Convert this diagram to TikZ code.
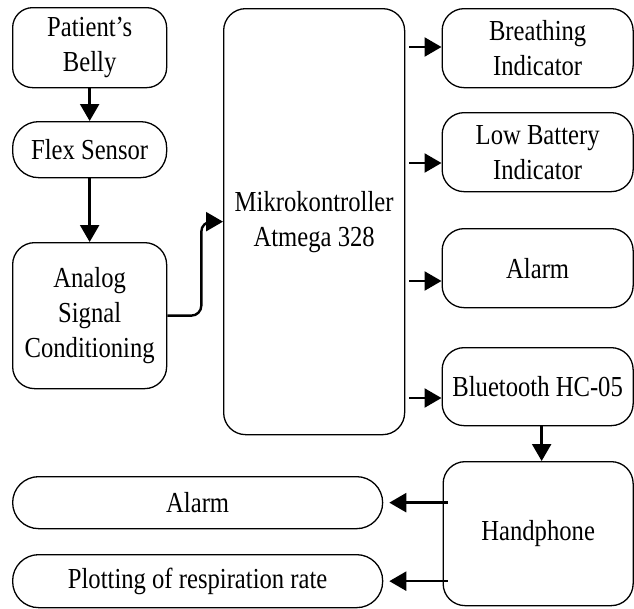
\documentclass[tikz,border=0pt]{standalone}
\usepackage{fontspec}
\setmainfont[FakeStretch=0.85]{Liberation Serif}
\usetikzlibrary{arrows.meta,calc}
\tikzset{
  box/.style={draw=black, line width=1.3pt, anchor=north west, align=center, inner sep=0pt,
    font=\fontsize{29}{35}\selectfont, rounded corners=#1},
  box/.default=22pt,
  arr/.style={draw=black, line width=2.4pt, -{Triangle[length=17pt,width=19pt]}}
}
\begin{document}
\begin{tikzpicture}[x=1pt,y=-1pt]
\useasboundingbox (0,0) rectangle (634,608);
% left column
\node[box=20pt, minimum width=154pt, minimum height=80pt] (belly) at (12,7) {Patient's\\Belly};
\node[box=26pt, minimum width=154pt, minimum height=56pt] (flex) at (12,121) {Flex Sensor};
\node[box=22pt, minimum width=154pt, minimum height=146pt] (analog) at (12,242) {Analog\\Signal\\Conditioning};
% microcontroller
\node[box=22pt, minimum width=181pt, minimum height=426pt] (mikro) at (223,8) {Mikrokontroller\\Atmega 328};
% right column
\node[box=22pt, minimum width=191pt, minimum height=79pt] (breath) at (441.5,8) {Breathing\\Indicator};
\node[box=22pt, minimum width=191pt, minimum height=79pt] (lowbat) at (441.5,112) {Low Battery\\Indicator};
\node[box=22pt, minimum width=191pt, minimum height=79pt] (alarmA) at (441.5,228) {Alarm};
\node[box=22pt, minimum width=191pt, minimum height=78pt] (bt) at (441.5,347) {Bluetooth HC-05};
\node[box=22pt, minimum width=190pt, minimum height=144pt] (hand) at (442.5,461) {Handphone};
% bottom left
\node[box=26pt, minimum width=370pt, minimum height=52pt] (alarmB) at (12,476) {Alarm};
\node[box=26pt, minimum width=370pt, minimum height=53pt] (plot) at (12,554) {Plotting of respiration rate};
% connectors
\draw[arr] (belly.south) -- (flex.north);
\draw[arr] (flex.south) -- (analog.north);
\draw[arr, rounded corners=10pt] (analog.east) -- ++(34,0) |- (mikro.west);
\coordinate (o1) at (409,47);
\coordinate (o2) at (409,163);
\coordinate (o3) at (409,281);
\coordinate (o4) at (409,398);
\draw[arr] (o1) -- (o1 -| breath.west);
\draw[arr] (o2) -- (o2 -| lowbat.west);
\draw[arr] (o3) -- (o3 -| alarmA.west);
\draw[arr] (o4) -- (o4 -| bt.west);
\draw[arr] ([xshift=4pt]bt.south) -- ([xshift=4pt]bt.south |- hand.north);
\draw[arr] ([xshift=5pt]hand.west |- alarmB.east) -- ([xshift=6pt]alarmB.east);
\draw[arr] ([xshift=5pt]hand.west |- plot.east) -- ([xshift=6pt]plot.east);
\end{tikzpicture}
\end{document}
